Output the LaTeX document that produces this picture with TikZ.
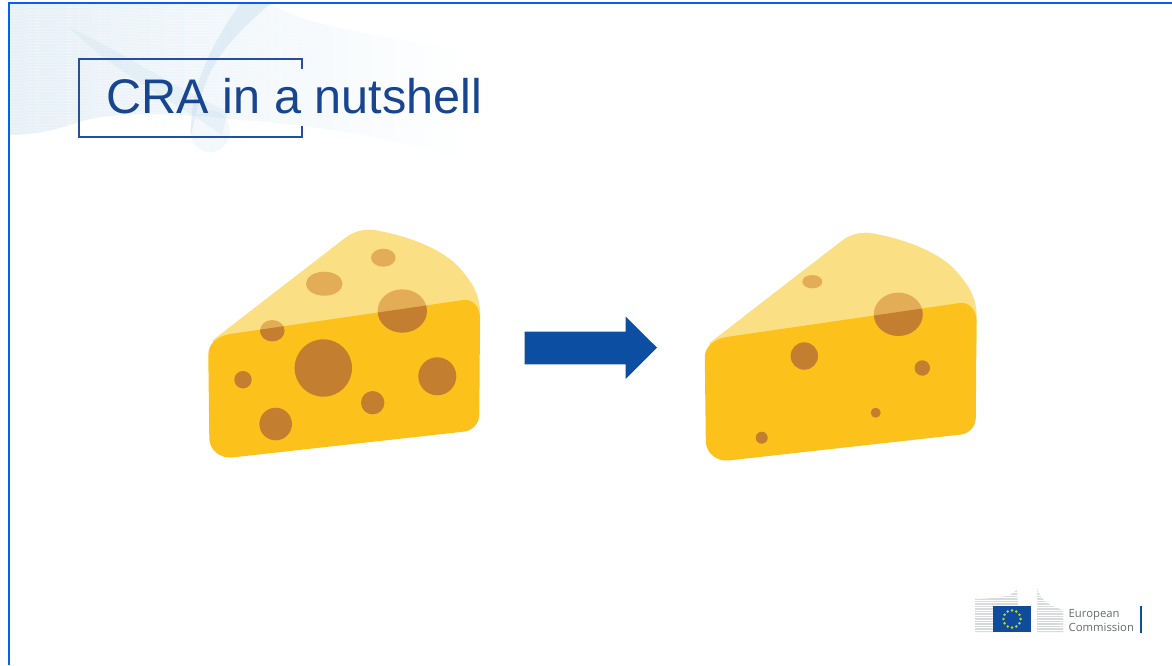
\documentclass[tikz,border=0pt]{standalone}
\usepackage{fontspec}
\setmainfont{Liberation Sans}
\newfontfamily\logofont{Open Sans}
\usepackage{tikz}
\usetikzlibrary{fadings}
\definecolor{framecol}{HTML}{0A5CF5}
\definecolor{titlecol}{HTML}{17458F}
\definecolor{boxcol}{HTML}{23509C}
\definecolor{arrowcol}{HTML}{0B4EA2}
\definecolor{washcol}{HTML}{E6F0F7}
\definecolor{ribboncol}{HTML}{B4D4E8}
\definecolor{rindcol}{HTML}{FBDF85}
\definecolor{bodycol}{HTML}{FDC11B}
\definecolor{palecol}{HTML}{E3AC57}
\definecolor{holecol}{HTML}{C47E2F}
\definecolor{wingcol}{HTML}{D8DBDD}
\definecolor{flagcol}{HTML}{0F4C9E}
\definecolor{starcol}{HTML}{B5D334}
\definecolor{logocol}{HTML}{666A6D}
\tikzset{
  frameline/.style={draw=framecol,line width=2.8pt},
  wash/.style={fill=washcol},
  waveline/.style={draw=white,line width=.35pt,opacity=.6},
  ribbon/.style={fill=ribboncol,opacity=.4},
  titlebox/.style={draw=boxcol,line width=2pt},
  titletext/.style={text=titlecol,font=\fontsize{48.6}{50}\selectfont,inner sep=0pt},
  logotext/.style={text=logocol,font=\logofont\fontsize{11.3}{13.5}\selectfont,align=left,inner sep=0pt}
}
\newcommand{\rindpath}{(213,340) -- (345,238) .. controls (355,230) and (368,228) .. (380,231)
  .. controls (415,238) and (448,252) .. (463,272) .. controls (472,283) and (479,293) .. (480,310)
  -- (480,340) -- (213,370) -- cycle}
\newcommand{\bodypath}{(208.3,355) .. controls (208.3,343) and (218,336) .. (230,334) -- (463.3,300)
  .. controls (473,299) and (480,307) .. (480,318.3) -- (479.3,415)
  .. controls (479,424) and (472,431) .. (463.3,431.7) -- (233.3,457.3)
  .. controls (220,459) and (209.5,450) .. (209.3,438.3) -- cycle}
\newcommand{\cheesewedge}[2]{%
  \fill[rindcol] \rindpath;
  \fill[palecol] #1;
  \fill[bodycol] \bodypath;
  \begin{scope}
    \clip \bodypath;
    \fill[holecol] #2;
  \end{scope}}

\begin{document}
\begin{tikzpicture}[x=1pt,y=-1pt]
    \useasboundingbox (0,0) rectangle (1172,665);
    % wave behind the title
    \fill[wash,path fading=east] (10,4) -- (272,4) .. controls (300,25) and (380,35) .. (470,52)
      -- (470,160) .. controls (400,140) and (320,125) .. (240,120)
      .. controls (170,112) and (110,112) .. (80,122) .. controls (50,132) and (30,135) .. (10,135) -- cycle;
    \foreach \y in {6,9,...,135} {
      \draw[waveline] (10,\y) .. controls (90,\y-8) and (200,\y+14) .. (300,\y-6);
    }
    \fill[ribbon,opacity=.18] (70,28) .. controls (110,45) and (170,85) .. (228,112)
      -- (222,135) .. controls (180,105) and (110,70) .. (70,28) -- cycle;
    \fill[ribbon,opacity=.3] (240,4) -- (270,4) .. controls (240,30) and (215,55) .. (205,85)
      .. controls (200,100) and (195,115) .. (191,135) .. controls (190,100) and (200,60) .. (240,4) -- cycle;
    \fill[ribbon,opacity=.16] (210,131) ellipse (20 and 21);
    % frame
    \draw[frameline] (9,665) -- (9,3) -- (1172,3);
    % title
    \draw[titlebox] (302,69) -- (302,58.5) -- (78.5,58.5) -- (78.5,137) -- (302,137) -- (302,126);
    \node[titletext,anchor=base west] (title) at (106.5,113.5) {CRA in a nutshell};
    % cheese before
    \cheesewedge{(383.3,257.7) ellipse (12.3 and 9) (324.3,283.7) ellipse (18.3 and 12)
      (402.3,311) ellipse (24.7 and 21.7) (272.3,330.7) ellipse (12.3 and 10.7)}
      {(402.3,311) ellipse (24.7 and 21.7) (272.3,330.7) ellipse (12.3 and 10.7)
      (323.3,368) circle (28.7) (437.3,376.3) circle (19) (372.7,402.7) circle (11.7)
      (275.7,424) circle (16.3) (243,379.7) circle (8.7)}
    % arrow
    \fill[arrowcol] (524.7,331.7) -- (625.7,331.7) -- (625.7,316.7) -- (657,347.7)
      -- (625.7,379) -- (625.7,364.3) -- (524.7,364.3) -- cycle;
    % cheese after
    \begin{scope}[shift={(496.5,3)}]
      \cheesewedge{(315.8,278.7) ellipse (10 and 6.7) (401.8,311.3) ellipse (24.5 and 21.7)}
        {(401.8,311.3) ellipse (24.5 and 21.7) (307.8,353) circle (13.7) (425.8,365) circle (7.7)
        (379.2,409.7) circle (5) (265.2,434.7) circle (6)}
    \end{scope}
    % logo
    \fill[wingcol] (975,599) .. controls (1000,598) and (1012,597) .. (1017,589) -- (1018,606)
      -- (1031,606) -- (1031,632) -- (975,632) -- cycle;
    \fill[wingcol] (1037,588) .. controls (1040,600) and (1050,606) .. (1063,610) -- (1063,632) -- (1037,632) -- cycle;
    \foreach \y in {590,592.5,...,632} {
      \draw[white,line width=.6pt] (974,\y) -- (1064,\y);
    }
    \fill[flagcol] (993,606) rectangle (1031.3,632.3);
    \begin{scope}[shift={(1012,619)}]
      \foreach \a in {0,30,...,330} {
        \fill[starcol] (\a:8.6) circle (1.4);
      }
    \end{scope}
    \node[logotext,anchor=north west] (logo) at (1068.5,609.5) {European\\Commission};
    \draw[arrowcol,line width=2pt] (1141,606) -- (1141,633);
\end{tikzpicture}
\end{document}
